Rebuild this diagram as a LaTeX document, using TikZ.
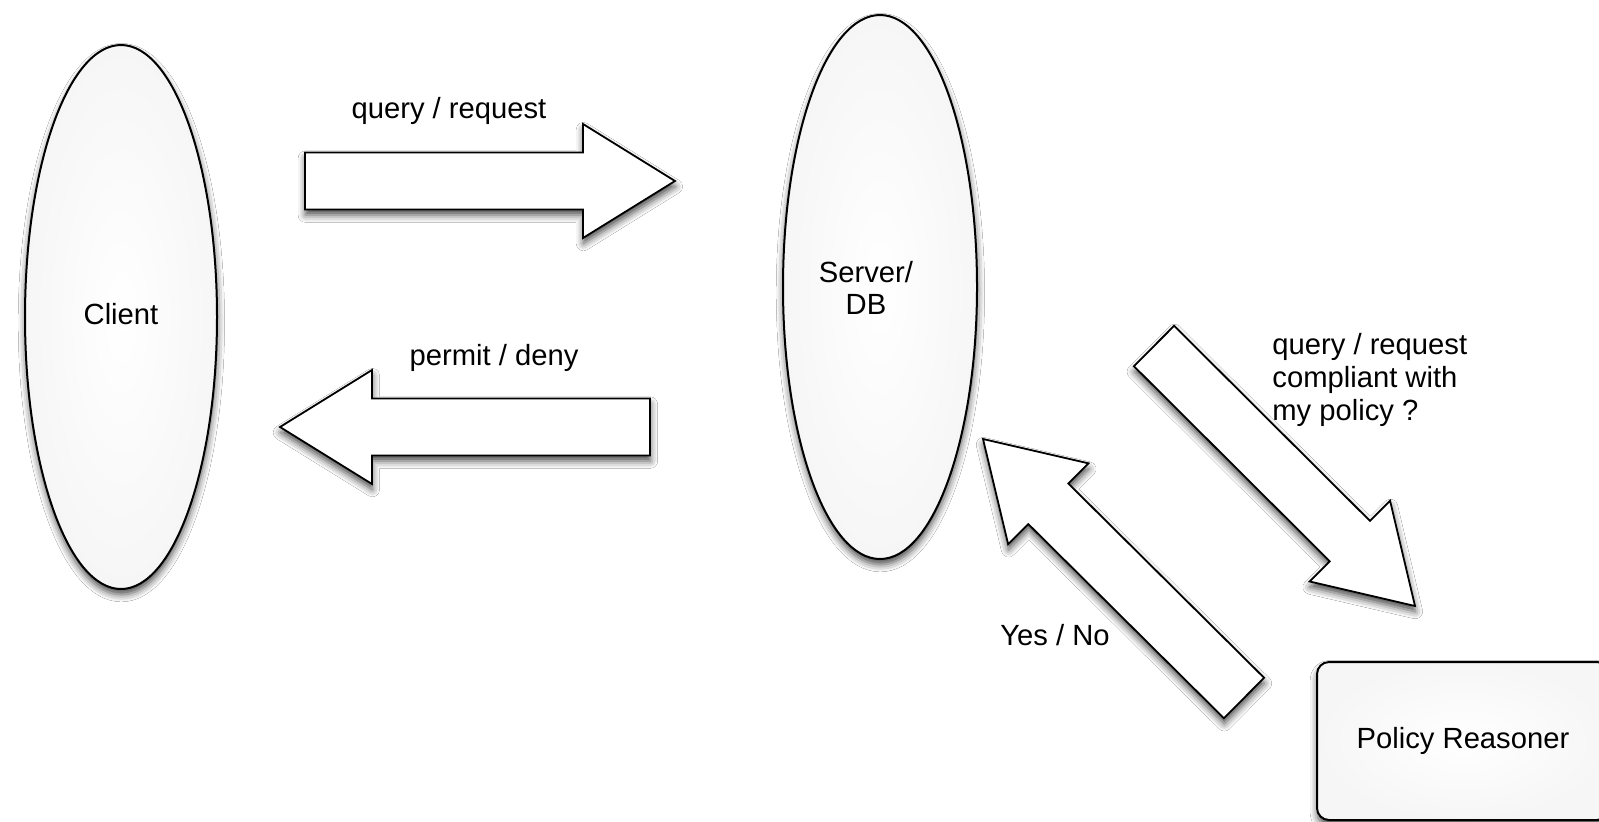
\documentclass[tikz,border=0pt]{standalone}
\usepackage{fontspec}
\setmainfont{Liberation Sans}
\usetikzlibrary{shapes.geometric,shadows.blur,calc}

\tikzset{
  txt/.style={font=\fontsize{14.6}{16.4}\selectfont, text=black, inner sep=0pt},
  softshadow/.style={blur shadow={shadow xshift=0.2pt, shadow yshift=-2.8pt, shadow blur radius=3.6pt, shadow opacity=70}},
  blob/.style={ellipse, draw=black, line width=1pt, inner sep=0pt,
    inner color=white, outer color=gray!7, softshadow},
  panel/.style={rectangle, rounded corners=6pt, draw=black, line width=1pt, inner sep=0pt,
    inner color=white, outer color=gray!7, softshadow},
  fatarrowstyle/.style={draw=black, fill=white, line width=0.9pt, line join=miter, softshadow}
}

\newcommand\fatarrow[2]{%
  \coordinate (#1base) at ($(#2)!46pt!(#1)$);
  \draw[fatarrowstyle]
    ($(#1)!14.25pt!90:(#2)$) --
    ($(#1base)!14.25pt!-90:(#1)$) --
    ($(#1base)!28.5pt!-90:(#1)$) --
    (#2) --
    ($(#1base)!28.5pt!90:(#1)$) --
    ($(#1base)!14.25pt!90:(#1)$) --
    ($(#1)!14.25pt!-90:(#2)$) -- cycle;
}

\begin{document}
\begin{tikzpicture}[x=0.5pt, y=-0.5pt]
\useasboundingbox (0,0) rectangle (1599,821);
\fill[white] (0,0) rectangle (1599,821);

% nodes
\node[blob, minimum width=96pt, minimum height=272pt] (client) at (121,317) {};
\node[txt] (clientlabel) at (121,314) {Client};

\node[blob, minimum width=97pt, minimum height=272pt] (server) at (880,287) {};
\node[txt, align=center] (serverlabel) at (866,288) {Server/\\DB};

\node[panel, minimum width=146pt, minimum height=79pt] (reasoner) at (1463,741) {};
\node[txt] (reasonerlabel) at (1463,741) {Policy Reasoner};

% arrow end points
\coordinate (qryT) at (305,181);  \coordinate (qryH) at (675,181);
\coordinate (permT) at (650,427); \coordinate (permH) at (280,427);
\coordinate (compT) at (1154,346); \coordinate (compH) at (1415,606);
\coordinate (ynT) at (1244,698);  \coordinate (ynH) at (983,439);

\fatarrow{qryT}{qryH}
\fatarrow{permT}{permH}
\fatarrow{compT}{compH}
\fatarrow{ynT}{ynH}

% labels
\node[txt] (lq) at (449,111) {query / request};
\node[txt] (lp) at (494,358) {permit / deny};
\node[txt, anchor=west, align=left] (lc) at (1272,380) {query / request\\compliant with\\my policy ?};
\node[txt] (ly) at (1055,635) {Yes / No};
\end{tikzpicture}
\end{document}
